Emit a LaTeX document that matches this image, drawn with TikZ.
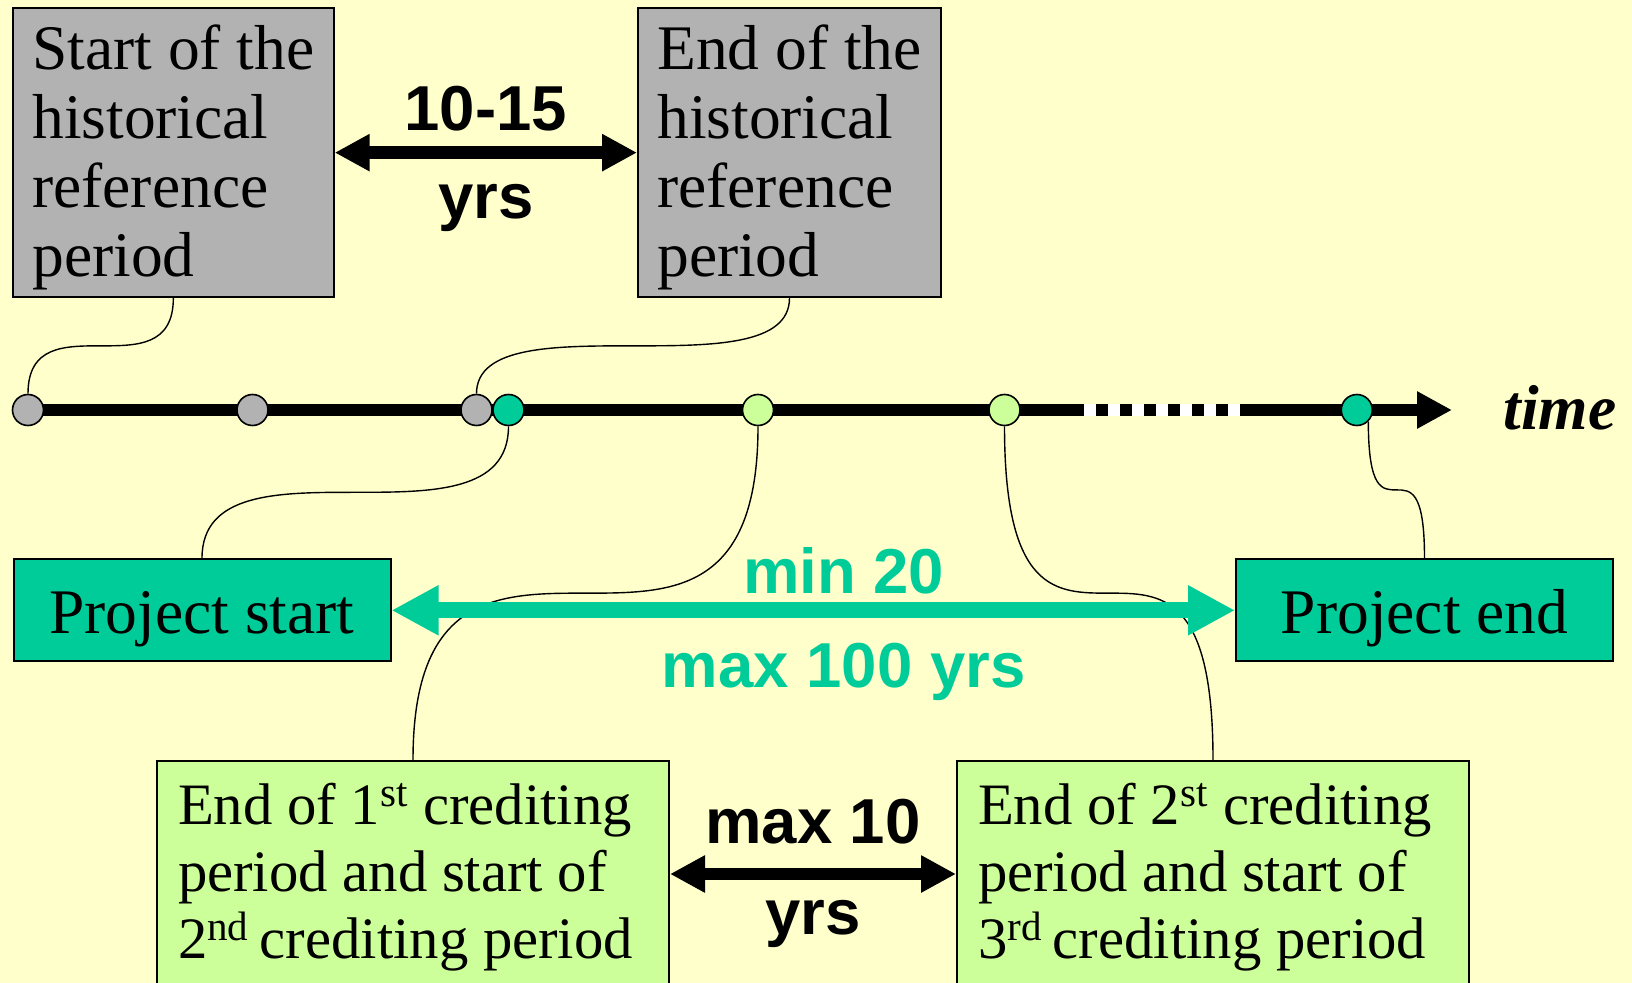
\documentclass[tikz,border=0pt]{standalone}
\usepackage{fontspec}
\setmainfont{Liberation Serif}
\setsansfont{Liberation Sans}
\usepackage{tikz}
\usetikzlibrary{arrows.meta}
\definecolor{paper}{HTML}{FFFFCC}
\definecolor{histgray}{HTML}{B2B2B2}
\definecolor{projgreen}{HTML}{00CC99}
\definecolor{credgreen}{HTML}{CCFF99}
\newcommand{\boxfont}{\fontsize{31.75}{34.5}\selectfont}
\newcommand{\credfont}{\fontsize{29.35}{33.5}\selectfont}
\newcommand{\spanfont}{\sffamily\bfseries\fontsize{31.75}{36}\selectfont}
\newcommand{\swing}[2]{\draw[link] (#1) .. controls (#1 |- #2) and (#2 |- #1) .. (#2);}

\begin{document}
\begin{tikzpicture}[x=0.5pt,y=-0.5pt,
  box/.style={draw,line width=1pt,anchor=north west,inner ysep=6pt},
  histbox/.style={box,fill=histgray,align=flush left,minimum width=#1,font=\boxfont,
    text height=128.35pt,text depth=4pt},
  projbox/.style={box,fill=projgreen,minimum width=188.5pt,font=\boxfont,
    text height=30.85pt,text depth=8.15pt},
  credbox/.style={box,fill=credgreen,align=flush left,text width=235pt,inner xsep=10.5pt,
    font=\credfont,text height=25.65pt,text depth=75.35pt},
  dot/.style={circle,draw,line width=0.8pt,minimum size=15.5pt,inner sep=0pt},
  link/.style={line width=0.7pt},
  span/.style={line width=6.3pt,<->,>={Triangle[length=17.5pt,width=17.5pt]}},
  longspan/.style={projgreen,line width=7.85pt,<->,>={Triangle[length=23.5pt,width=23.5pt]}},
  lbl/.style={font=\spanfont,anchor=base,inner sep=0pt}]

\useasboundingbox (0,0) rectangle (1632,983);
\clip (0,0) rectangle (1632,983);
\fill[paper] (0,0) rectangle (1632,983);

\coordinate (tstart) at (28,410);
\coordinate (tend) at (1452,410);
\coordinate (gapA) at (1084,410);
\coordinate (gapB) at (1241,410);
\draw[line width=6pt,-{Triangle[length=17.5pt,width=17.5pt]}] (tstart) -- (tend);
\draw[white,line width=6pt,dash pattern=on 6.15pt off 5.85pt] (gapA) -- (gapB);
\node[font=\boxfont\bfseries\itshape,anchor=base west,inner sep=0pt] (timelbl) at (1503,430) {time};

\foreach \x/\c [count=\i] in {28/histgray,252.5/histgray,476.5/histgray,508.5/projgreen,
  758/credgreen,1004.5/credgreen,1356.8/projgreen}
  \node[dot,fill=\c] (c\i) at (\x,410) {};

\node[histbox=160.35pt] (hstart) at (12,7.3) {Start of the\\historical\\reference\\period};
\node[histbox=151.5pt] (hend) at (637,7.3) {End of the\\historical\\reference\\period};
\node[projbox] (pstart) at (12.5,558.3) {Project start};
\node[projbox] (pend) at (1235,558.3) {Project end};
\node[credbox] (cred1) at (156,760) {End of 1\textsuperscript{st} crediting\\period and start of\\2\textsuperscript{nd }crediting period};
\node[credbox] (cred2) at (956,760) {End of 2\textsuperscript{st} crediting\\period and start of\\3\textsuperscript{rd }crediting period};

\swing{hstart.south}{c1.north}
\swing{hend.south}{c3.north}
\swing{c4.south}{pstart.north}
\swing{c5.south}{cred1.north}
\swing{c6.south}{cred2.north}
\swing{c7.-45}{pend.north}

\draw[span] (hstart.east) -- node[lbl,midway,yshift=11pt] (hyrs) {10-15}
  node[lbl,midway,yshift=-33pt] (hyrsb) {yrs} (hend.west);
\draw[longspan] (pstart.east) -- node[lbl,pos=.536,yshift=8.25pt,text=projgreen] (pmin) {min 20}
  node[lbl,pos=.536,yshift=-38.75pt,text=projgreen] (pmax) {max 100 yrs} (pend.west);
\draw[span] (cred1.east) -- node[lbl,midway,yshift=15.4pt] (cmax) {max 10}
  node[lbl,midway,yshift=-30.25pt] (cyrs) {yrs} (cred2.west);

\end{tikzpicture}
\end{document}
